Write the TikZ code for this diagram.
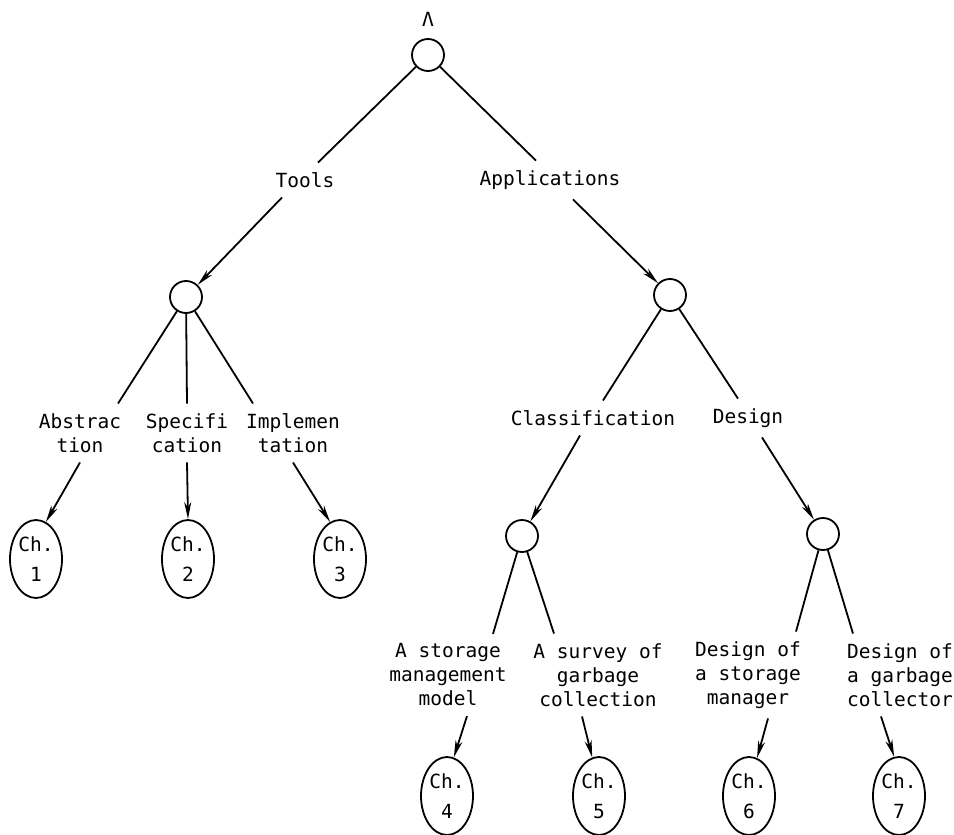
\documentclass[tikz,border=0pt]{standalone}
\usepackage{fontspec}
\setmainfont{DejaVu Sans Mono}
\usetikzlibrary{positioning, arrows.meta, shapes.geometric}

\tikzset{
    knot/.style={circle, draw, minimum size=32pt, inner sep=0pt},
    topic/.style={align=center, inner sep=9pt, font=\fontsize{19.5}{24}\selectfont},
    chap/.style={ellipse, draw, minimum width=52pt, minimum height=78pt,
        inner sep=0pt, align=center, font=\fontsize{19.5}{30}\selectfont},
    tip/.style={-{Stealth[length=17pt, width=7pt, inset=5pt]}}
}

\begin{document}
\begin{tikzpicture}[on grid, line width=1.8pt]
    \useasboundingbox (0,0) rectangle (954pt,-835pt);

    \node[knot] (root) at (428pt,-55pt) {};
    \node[topic, inner sep=0pt] (lam) [above=36pt of root] {Λ};

    \node[topic] (tools) [below left=125pt and 123pt of root] {Tools};
    \node[topic] (apps) [below right=125pt and 122pt of root] {Applications};

    % tools side
    \node[knot] (tk) [below left=117pt and 119pt of tools] {};
    \node[topic] (abs) [below left=136pt and 106pt of tk] {Abstrac\\tion};
    \node[topic] (spec) [below right=136pt and 1pt of tk] {Specifi\\cation};
    \node[topic] (impl) [below right=136pt and 107pt of tk] {Implemen\\tation};
    \node[chap] (c1) [below left=126pt and 44pt of abs] {Ch.\\1};
    \node[chap] (c2) [below right=126pt and 1pt of spec] {Ch.\\2};
    \node[chap] (c3) [below right=126pt and 47pt of impl] {Ch.\\3};

    % applications side
    \node[knot] (ak) [below right=115pt and 120pt of apps] {};
    \node[topic] (cls) [below left=123pt and 77pt of ak] {Classification};
    \node[topic] (des) [below right=123pt and 78pt of ak] {Design};
    \node[knot] (ck) [below left=118pt and 71pt of cls] {};
    \node[knot] (dk) [below right=116pt and 75pt of des] {};
    \node[topic] (sm) [below left=139pt and 74pt of ck] {A storage\\management\\model};
    \node[topic] (sg) [below right=139pt and 76pt of ck] {A survey of\\garbage\\collection};
    \node[topic] (ds) [below left=141pt and 75pt of dk] {Design of\\a storage\\manager};
    \node[topic] (dg) [below right=141pt and 77pt of dk] {Design of\\a garbage\\collector};
    \node[chap] (c4) [below left=121pt and 1pt of sm] {Ch.\\4};
    \node[chap] (c5) [below right=121pt and 1pt of sg] {Ch.\\5};
    \node[chap] (c6) [below right=121pt and 1pt of ds] {Ch.\\6};
    \node[chap] (c7) [below left=121pt and 1pt of dg] {Ch.\\7};

    \path
    (root) edge ([xshift=13pt]tools.north)
    (root) edge ([xshift=-14pt]apps.north)
        (tk) edge ([xshift=38pt]abs.north)
        (tk) edge (spec.north)
        (tk) edge ([xshift=-40pt]impl.north)
    (ak) edge ([xshift=10pt]cls.north)
    (ak) edge ([xshift=-10pt]des.north)
        (ck) edge ([xshift=45pt]sm.north)
        (ck) edge ([xshift=-44pt]sg.north)
        (dk) edge ([xshift=48pt]ds.north)
        (dk) edge ([xshift=-47pt]dg.north);

    \path[tip]
    ([xshift=-23pt]tools.south) edge (tk)
    ([xshift=23pt]apps.south) edge (ak)
        (abs.south) edge (c1.75)
        (spec.south) edge (c2.north)
        (impl.south) edge (c3.105)
    ([xshift=-13pt]cls.south) edge (ck)
    ([xshift=14pt]des.south) edge (dk)
        ([xshift=19pt]sm.south) edge (c4.80)
        ([xshift=-16pt]sg.south) edge (c5.100)
        ([xshift=20pt]ds.south) edge (c6.78)
        ([xshift=-19pt]dg.south) edge (c7.97);
\end{tikzpicture}
\end{document}
